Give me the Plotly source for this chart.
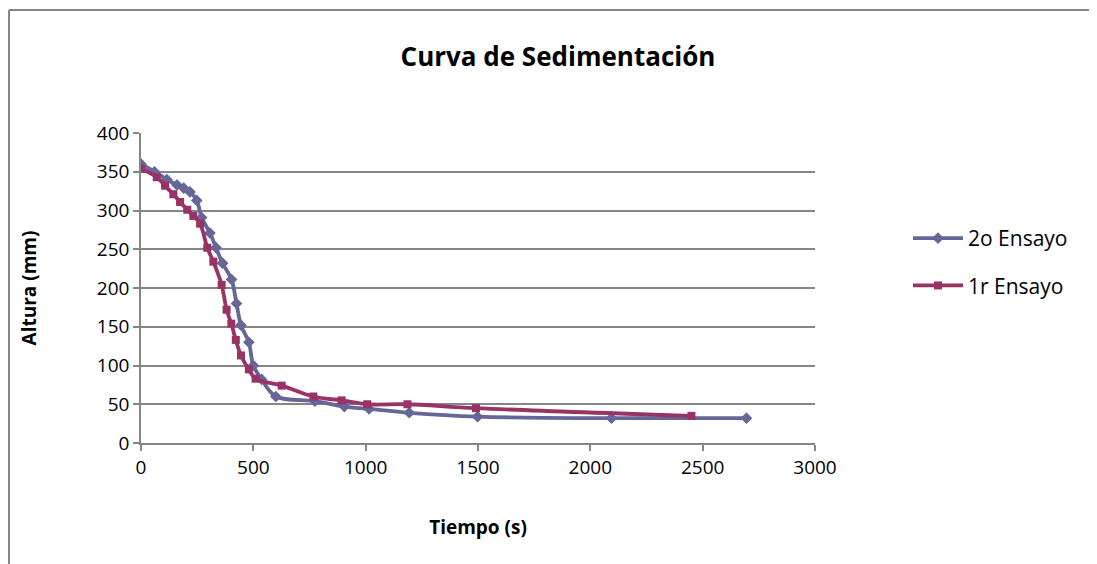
import plotly.graph_objects as go

# 2o Ensayo
t2 = [0, 60, 115, 160, 190, 218, 248, 270, 307, 334, 363, 403, 425, 445, 480, 500, 537, 600, 774, 905, 1015, 1194, 1498, 2094, 2695]
h2 = [360, 350, 340, 333, 329, 324, 313, 291, 271, 252, 232, 211, 180, 152, 130, 100, 82, 60, 54, 47, 44, 39, 34, 32, 32]

# 1r Ensayo
t1 = [0, 70, 107, 144, 174, 206, 233, 263, 295, 322, 359, 381, 402, 422, 445, 480, 510, 626, 767, 893, 1007, 1186, 1491, 2450]
h1 = [354, 343, 332, 321, 311, 301, 293, 283, 252, 234, 204, 172, 154, 133, 113, 95, 83, 74, 60, 55, 50, 50, 45, 35]

x_ticks = [0, 500, 1000, 1500, 2000, 2500, 3000]
y_ticks = [0, 50, 100, 150, 200, 250, 300, 350, 400]

blue = "#666699"
red = "#993366"
grid = "#868686"
font = "Open Sans"

fig = go.Figure()
fig.add_trace(go.Scatter(
    x=t2, y=h2, name="2o Ensayo", mode="lines+markers", legendgroup="a",
    line=dict(color=blue, width=3.8, shape="spline", smoothing=1.0),
    marker=dict(symbol="diamond", size=9, color=blue),
))
fig.add_trace(go.Scatter(
    x=t1, y=h1, name="1r Ensayo", mode="lines+markers", legendgroup="b",
    line=dict(color=red, width=3.8, shape="spline", smoothing=1.0),
    marker=dict(symbol="square", size=8, color=red),
))

# page body has an 8px offset; positions below are figure coordinates
W, H = 1097, 564
L, R, T, B = 133, 807, 125, 435
pw, ph = R - L, B - T

fig.update_layout(
    width=W, height=H,
    margin=dict(l=L, r=W - R, t=T, b=H - B),
    paper_bgcolor="white", plot_bgcolor="white",
    font=dict(family=font, size=19, color="black"),
    title=dict(text="<b>Curva de Sedimentación</b>", x=550 / W, xanchor="center",
               y=1 - 49 / H, yanchor="middle", font=dict(size=26, family=font)),
    showlegend=True,
    legend=dict(x=(900 - L) / pw, y=(B - 210) / ph, xanchor="left", yanchor="top",
                font=dict(size=21, family=font), tracegroupgap=17, itemwidth=50,
                bgcolor="rgba(0,0,0,0)"),
    xaxis=dict(
        range=[0, 3000], tickvals=x_ticks, showgrid=False, zeroline=False,
        showline=True, linecolor=grid, linewidth=1.5,
        ticks="outside", ticklen=6, tickcolor=grid, tickwidth=1.5,
        tickfont=dict(size=19),
        title=dict(text="<b>Tiempo (s)</b>", font=dict(size=19), standoff=42),
    ),
    yaxis=dict(
        range=[0, 400], tickvals=y_ticks, showgrid=True, gridcolor=grid, gridwidth=1.5,
        zeroline=False, showline=True, linecolor=grid, linewidth=1.5,
        ticks="outside", ticklen=6, tickcolor=grid, tickwidth=1.5,
        tickfont=dict(size=19),
        title=dict(text="<b>Altura (mm)</b>", font=dict(size=19), standoff=55),
    ),
)

# chart border (left and top edges visible)
fig.add_shape(type="line", xref="paper", yref="paper",
              x0=(1 - L) / pw, x1=(W + 10 - L) / pw, y0=(B - 2) / ph, y1=(B - 2) / ph,
              line=dict(color=grid, width=2))
fig.add_shape(type="line", xref="paper", yref="paper",
              x0=(1 - L) / pw, x1=(1 - L) / pw, y0=(B - 2) / ph, y1=(B - H - 10) / ph,
              line=dict(color=grid, width=2))

fig.write_html("out.html")
